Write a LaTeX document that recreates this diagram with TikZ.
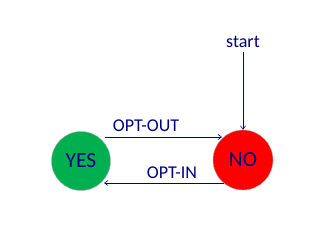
\documentclass[tikz,border=0pt]{standalone}
\usepackage{fontspec}
\setmainfont{Carlito}
\usetikzlibrary{arrows.meta}
\definecolor{navy}{RGB}{0,0,128}
\definecolor{ygreen}{RGB}{0,176,80}
\definecolor{nred}{RGB}{255,0,0}
\begin{document}
\begin{tikzpicture}[x=1pt,y=-1pt,
  statenode/.style={circle,draw=gray!60,line width=0.4pt,minimum size=59pt,inner sep=0pt,text=navy,font=\fontsize{21.5}{21.5}\selectfont},
  lbl/.style={text=navy,font=\fontsize{18}{18}\selectfont,inner sep=0pt},
  conn/.style={draw=navy,line width=0.6pt,-{Straight Barb[length=3.5pt,width=5pt]}}]
\useasboundingbox (0,0) rectangle (320,240);
\node[statenode,fill=ygreen] (yes) at (81,161) {YES};
\node[statenode,fill=nred,minimum size=60pt] (no) at (243,160) {NO};
\node[lbl] (start) at (243,42) {start};
\coordinate (s0) at (243,52);
\draw[conn] (s0) -- (no.north);
\coordinate (a0) at (105,137);
\coordinate (a1) at (222,137);
\draw[conn] (a0) -- (a1);
\node[lbl] (out) at (146,126) {OPT-OUT};
\node[lbl] (in) at (172,173) {OPT-IN};
\coordinate (b0) at (224,183);
\coordinate (b1) at (104,183);
\draw[conn] (b0) -- (b1);
\end{tikzpicture}
\end{document}
